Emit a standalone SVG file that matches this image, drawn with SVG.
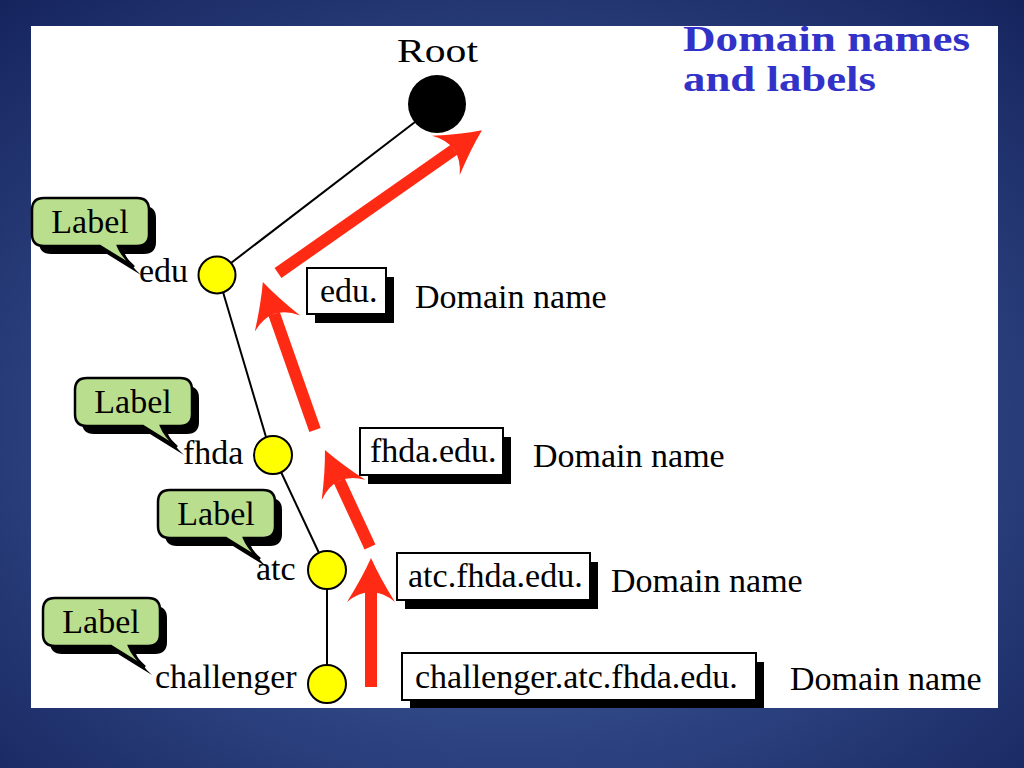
<svg xmlns="http://www.w3.org/2000/svg" xmlns:xlink="http://www.w3.org/1999/xlink" width="1024" height="768" viewBox="0 0 1024 768">
  <defs>
    <radialGradient id="bg" cx="50%" cy="55%" r="75%">
      <stop offset="0" stop-color="#4b6cb0"/>
      <stop offset="1" stop-color="#15235c"/>
    </radialGradient>
    <path id="head" d="M0,0 Q-20,-9 -44,-24 Q-34,-12 -34,0 Q-34,12 -44,24 Q-20,9 0,0 Z"/>
    <path id="callout" d="M12,0 H105 Q117,0 117,12 V36 Q117,48 105,48 H86 Q90,58 102,69 Q84,58 68,48 H12 Q0,48 0,36 V12 Q0,0 12,0 Z"/>
  </defs>
  <style>
    .t { font-family: "Liberation Serif", "Times New Roman", serif; font-size: 34px; fill: #000; }
    .title { font-family: "Liberation Serif", "Times New Roman", serif; font-size: 36px; font-weight: bold; fill: #3232c8; }
    .node { fill: #ffff00; stroke: #000; stroke-width: 2; }
    .edge { stroke: #000; stroke-width: 2; fill: none; }
    .red { fill: #ff2a14; }
    .box { fill: #fff; stroke: #000; stroke-width: 2; }
    .shadow { fill: #000; }
    .callout { fill: #b9df8e; stroke: #000; stroke-width: 2.5; }
  </style>

  <rect x="0" y="0" width="1024" height="768" fill="url(#bg)"/>
  <rect x="31" y="26" width="967" height="682" fill="#fff"/>

  <g id="title">
    <text class="title" x="683" y="51" textLength="287" lengthAdjust="spacingAndGlyphs">Domain names</text>
    <text class="title" x="683" y="91" textLength="193" lengthAdjust="spacingAndGlyphs">and labels</text>
  </g>

  <g id="connectors">
    <line class="edge" x1="415" y1="122" x2="231" y2="263"/>
    <line class="edge" x1="223" y1="292" x2="266" y2="437"/>
    <line class="edge" x1="281" y1="472" x2="319" y2="553"/>
    <line class="edge" x1="327" y1="588" x2="327" y2="665"/>
    <g class="red" transform="translate(278,273) rotate(-35)">
      <rect x="0" y="-6" width="215" height="12"/>
      <use xlink:href="#head" href="#head" x="249"/>
    </g>
    <g class="red" transform="translate(315,430) rotate(-109.4)">
      <rect x="0" y="-6" width="123" height="12"/>
      <use xlink:href="#head" href="#head" x="157"/>
    </g>
    <g class="red" transform="translate(370,547) rotate(-114.9)">
      <rect x="0" y="-6" width="73" height="12"/>
      <use xlink:href="#head" href="#head" x="107"/>
    </g>
    <g class="red" transform="translate(371,687) rotate(-90)">
      <rect x="0" y="-6" width="95" height="12"/>
      <use xlink:href="#head" href="#head" x="129"/>
    </g>
  </g>

  <g id="root">
    <circle cx="437" cy="104" r="29" fill="#000"/>
    <text class="t" x="397" y="62" font-size="39" textLength="81" lengthAdjust="spacingAndGlyphs">Root</text>
  </g>

  <g id="node-edu">
    <circle class="node" cx="217" cy="275" r="18.5"/>
    <text class="t" x="139" y="282">edu</text>
  </g>
  <g id="node-fhda">
    <circle class="node" cx="273" cy="455" r="19"/>
    <text class="t" x="183" y="464">fhda</text>
  </g>
  <g id="node-atc">
    <circle class="node" cx="327" cy="570" r="19"/>
    <text class="t" x="256" y="580">atc</text>
  </g>
  <g id="node-challenger">
    <circle class="node" cx="327" cy="684" r="19"/>
    <text class="t" x="155" y="688">challenger</text>
  </g>

  <g id="label-edu">
    <use xlink:href="#callout" href="#callout" class="shadow" transform="translate(39,206)"/>
    <use xlink:href="#callout" href="#callout" class="callout" transform="translate(32,198)"/>
    <text class="t" x="90" y="233" font-size="33" text-anchor="middle">Label</text>
  </g>
  <g id="label-fhda">
    <use xlink:href="#callout" href="#callout" class="shadow" transform="translate(82,386)"/>
    <use xlink:href="#callout" href="#callout" class="callout" transform="translate(75,378)"/>
    <text class="t" x="133" y="413" font-size="33" text-anchor="middle">Label</text>
  </g>
  <g id="label-atc">
    <use xlink:href="#callout" href="#callout" class="shadow" transform="translate(165,498)"/>
    <use xlink:href="#callout" href="#callout" class="callout" transform="translate(158,490)"/>
    <text class="t" x="216" y="525" font-size="33" text-anchor="middle">Label</text>
  </g>
  <g id="label-challenger">
    <use xlink:href="#callout" href="#callout" class="shadow" transform="translate(50,606)"/>
    <use xlink:href="#callout" href="#callout" class="callout" transform="translate(43,598)"/>
    <text class="t" x="101" y="633" font-size="33" text-anchor="middle">Label</text>
  </g>

  <g id="dn-edu">
    <rect class="shadow" x="315" y="277" width="79" height="46"/>
    <rect class="box" x="307" y="268" width="79" height="46"/>
    <text class="t" x="320" y="302">edu.</text>
    <text class="t" x="415" y="308">Domain name</text>
  </g>
  <g id="dn-fhda">
    <rect class="shadow" x="368" y="437" width="143" height="47"/>
    <rect class="box" x="360" y="428" width="143" height="47"/>
    <text class="t" x="370" y="462">fhda.edu.</text>
    <text class="t" x="533" y="467">Domain name</text>
  </g>
  <g id="dn-atc">
    <rect class="shadow" x="405" y="562" width="193" height="47"/>
    <rect class="box" x="397" y="553" width="193" height="47"/>
    <text class="t" x="408" y="587">atc.fhda.edu.</text>
    <text class="t" x="611" y="592">Domain name</text>
  </g>
  <g id="dn-challenger">
    <rect class="shadow" x="410" y="662" width="354" height="46"/>
    <rect class="box" x="402" y="653" width="354" height="47"/>
    <text class="t" x="415" y="688">challenger.atc.fhda.edu.</text>
    <text class="t" x="790" y="690">Domain name</text>
  </g>
</svg>
